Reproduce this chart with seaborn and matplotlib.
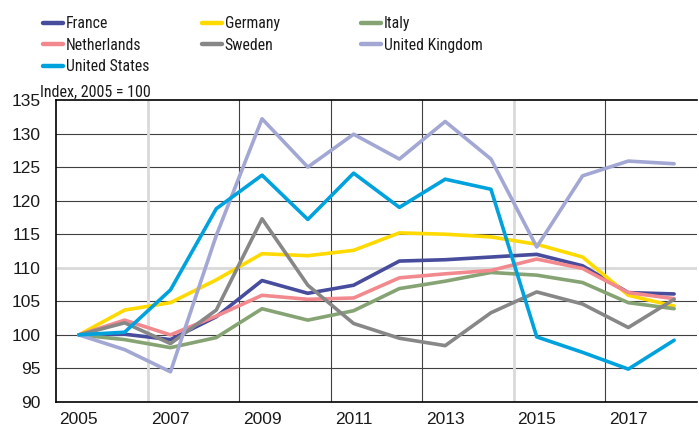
import numpy as np
import pandas as pd
import seaborn as sns
import matplotlib.pyplot as plt
from matplotlib.lines import Line2D

# valores (índice, 2005 = 100)
years = list(range(2005, 2019))
france = [100, 100.1, 99.3, 102.7, 108.1, 106.2, 107.4, 111.0, 111.2, 111.6, 112.0, 110.3, 106.3, 106.1]
germany = [100, 103.7, 104.8, 108.2, 112.1, 111.8, 112.6, 115.2, 115.0, 114.6, 113.5, 111.6, 105.9, 104.3]
italy = [100, 99.3, 98.1, 99.6, 103.9, 102.2, 103.6, 106.9, 108.0, 109.3, 108.9, 107.8, 104.8, 103.9]
netherlands = [100, 102.2, 100.0, 102.8, 105.9, 105.3, 105.5, 108.5, 109.1, 109.6, 111.3, 109.9, 106.3, 105.4]
sweden = [100, 101.8, 98.7, 103.7, 117.3, 107.4, 101.7, 99.5, 98.4, 103.3, 106.4, 104.6, 101.1, 105.3]
uk = [100, 97.8, 94.5, 114.8, 132.2, 125.0, 129.9, 126.2, 131.8, 126.2, 113.1, 123.7, 125.9, 125.5]
us = [100, 100.4, 106.7, 118.8, 123.8, 117.2, 124.1, 119.0, 123.2, 121.7, 99.7, 97.4, 94.9, 99.2]

countries = ['France', 'Germany', 'Italy', 'Netherlands', 'Sweden', 'United Kingdom', 'United States']
colors = ['#474C9C', '#FFDA00', '#86A374', '#F2898E', '#878787', '#A3A7D4', '#00A2DE']
series = [france, germany, italy, netherlands, sweden, uk, us]

df = pd.DataFrame({
    'Year': years * len(countries),
    'Country': np.repeat(countries, len(years)),
    'Index': sum(series, []),
})

sns.set_style('white')
plt.rcParams['font.family'] = ['Liberation Sans', 'DejaVu Sans']
narrow = ['Roboto Condensed', 'Liberation Sans Narrow', 'Liberation Sans', 'DejaVu Sans']

fig = plt.figure(figsize=(6.99, 4.30), dpi=100)
ax = fig.add_axes([56 / 699, 1 - 402 / 430, 641 / 699, 302 / 430])

# grelha ao estilo do Excel
for v in range(95, 135, 5):
    if v == 110:
        ax.axhline(v, color='#d9d9d9', lw=2, zorder=0)
    else:
        ax.axhline(v, color='#404040', lw=0.8, zorder=0)
for xv in [2006.5, 2008.5, 2010.5, 2012.5, 2014.5, 2016.5]:
    if xv in (2006.5, 2014.5):
        ax.axvline(xv, color='#d9d9d9', lw=2, zorder=0)
    else:
        ax.axvline(xv, color='#404040', lw=0.8, zorder=0)

sns.lineplot(data=df, x='Year', y='Index', hue='Country', hue_order=countries,
             palette=dict(zip(countries, colors)), linewidth=2.6, legend=False, ax=ax)

ax.set_xlim(2004.5, 2018.5)
ax.set_ylim(90, 135)
ax.set_yticks(range(90, 136, 5))
ax.set_xticks(range(2005, 2018, 2))
ax.set_xticks(np.arange(2005.5, 2018, 2), minor=True)
ax.tick_params(axis='y', length=0, pad=11, labelsize=12.5, colors='#1a1a1a')
ax.tick_params(axis='x', which='major', length=0, pad=7, labelsize=12.5, colors='#1a1a1a')
ax.tick_params(axis='x', which='minor', direction='in', length=3, width=0.8, color='black')
ax.set_xlabel('')
ax.set_ylabel('')
for s in ['left', 'bottom', 'top']:
    ax.spines[s].set_color('black')
    ax.spines[s].set_linewidth(1.2)
ax.spines['right'].set_visible(False)

fig.text(40 / 699, 1 - 97 / 430, 'Index, 2005 = 100', fontsize=11.5, family=narrow,
         va='baseline', ha='left', color='#1a1a1a')

# legenda em três colunas
handles = [Line2D([], [], color=c, lw=3.2) for c in colors]
cols = [[0, 3, 6], [1, 4], [2, 5]]
xs = [43, 202, 361]
for idx, x0 in zip(cols, xs):
    leg = fig.legend([handles[i] for i in idx], [countries[i] for i in idx],
                     loc='upper left', bbox_to_anchor=(x0 / 699, 1 - 16 / 430),
                     frameon=False, borderpad=0, borderaxespad=0,
                     handlelength=1.3, handletextpad=0.15, labelspacing=0.42,
                     prop={'family': narrow, 'size': 11.3})
    for t in leg.get_texts():
        t.set_color('#1a1a1a')

fig.savefig('out.png', dpi=100)
